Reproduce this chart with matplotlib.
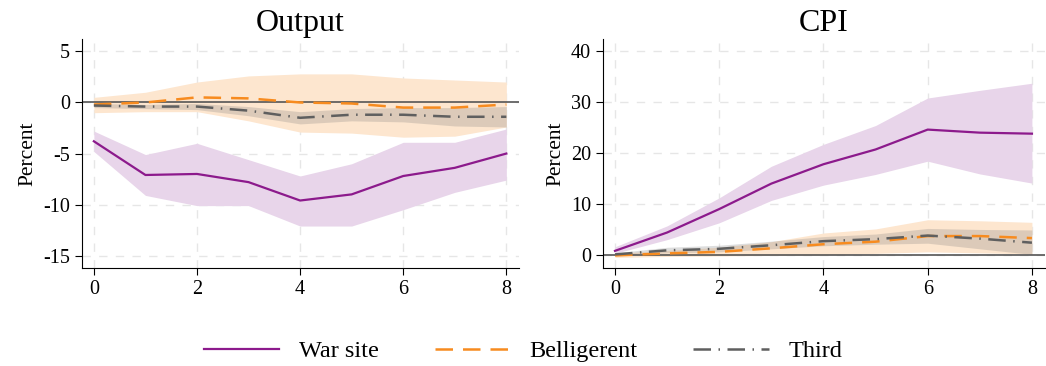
import matplotlib.pyplot as plt
import numpy as np

plt.rcParams['font.family'] = ['Liberation Serif', 'DejaVu Serif']
plt.rcParams['axes.unicode_minus'] = False

h = np.arange(9)

# Output
out_war = [-3.8, -7.1, -7.0, -7.8, -9.6, -9.0, -7.2, -6.4, -5.0]
out_war_hi = [-2.8, -5.1, -4.0, -5.6, -7.2, -6.0, -3.9, -3.9, -2.6]
out_war_lo = [-4.8, -9.1, -10.1, -10.1, -12.1, -12.1, -10.5, -8.8, -7.6]
out_bel = [-0.2, 0.0, 0.5, 0.4, 0.0, -0.1, -0.5, -0.5, -0.2]
out_bel_hi = [0.5, 1.0, 2.0, 2.6, 2.8, 2.8, 2.4, 2.2, 2.0]
out_bel_lo = [-1.0, -0.9, -0.9, -1.8, -2.9, -3.0, -3.4, -3.3, -2.4]
out_thi = [-0.3, -0.4, -0.4, -0.8, -1.5, -1.2, -1.2, -1.4, -1.4]
out_thi_hi = [-0.1, -0.2, -0.1, -0.4, -0.9, -0.6, -0.5, -0.5, -0.4]
out_thi_lo = [-0.5, -0.6, -0.7, -1.3, -2.1, -1.8, -1.9, -2.3, -2.4]

# CPI
cpi_war = [0.8, 4.4, 9.0, 14.0, 17.8, 20.7, 24.6, 24.0, 23.8]
cpi_war_hi = [1.6, 5.7, 11.2, 17.4, 21.7, 25.4, 30.8, 32.3, 33.7]
cpi_war_lo = [0.3, 3.0, 6.3, 10.7, 13.7, 15.8, 18.4, 15.9, 14.1]
cpi_bel = [-0.1, 0.3, 0.6, 1.3, 2.1, 2.6, 3.7, 3.7, 3.3]
cpi_bel_hi = [0.3, 0.9, 1.5, 2.6, 4.3, 5.1, 6.9, 6.7, 6.4]
cpi_bel_lo = [-0.5, -0.3, -0.2, -0.1, 0.0, 0.3, 0.6, 0.4, 0.2]
cpi_thi = [0.1, 0.9, 1.2, 1.9, 2.7, 3.1, 3.8, 3.2, 2.4]
cpi_thi_hi = [0.4, 1.5, 1.9, 2.7, 3.6, 4.1, 5.2, 5.0, 4.9]
cpi_thi_lo = [-0.1, 0.4, 0.6, 1.2, 1.8, 2.1, 2.3, 1.2, 0.1]

purple = '#8c1a8c'
orange = '#f78b1f'
grey = '#5f5f5f'

fig = plt.figure(figsize=(10.46, 3.66), dpi=100)
ax1 = fig.add_axes([0.0784, 0.268, 0.418, 0.625])
ax2 = fig.add_axes([0.5765, 0.268, 0.4225, 0.625])


def panel(ax, title, war, war_lo, war_hi, bel, bel_lo, bel_hi, thi, thi_lo, thi_hi,
          yticks, ylim):
    ax.fill_between(h, war_lo, war_hi, color='#e8d5ea', lw=0, zorder=1)
    ax.fill_between(h, bel_lo, bel_hi, color='#fde6cf', lw=0, zorder=1)
    ax.fill_between(h, thi_lo, thi_hi, color='#7a7a7a', alpha=0.25, lw=0, zorder=1)
    ax.axhline(0, color='#555555', lw=1.2, zorder=2)
    l1, = ax.plot(h, war, color=purple, lw=1.6, zorder=3)
    l2, = ax.plot(h, bel, color=orange, lw=1.8, dashes=(7, 4), zorder=3)
    l3, = ax.plot(h, thi, color=grey, lw=1.8, dashes=(7, 3, 0.6, 3), zorder=3)
    ax.set_xlim(-0.23, 8.25)
    ax.set_ylim(*ylim)
    ax.set_xticks([0, 2, 4, 6, 8])
    ax.set_yticks(yticks)
    ax.grid(True, color='#e6e6e6', lw=1.0, dashes=(6, 6), zorder=0)
    ax.set_axisbelow(True)
    for s in ['top', 'right']:
        ax.spines[s].set_visible(False)
    ax.tick_params(labelsize=14.5, length=5, direction='out')
    ax.set_ylabel('Percent', fontsize=15.5)
    ax.set_title(title, fontsize=23, pad=6)
    return l1, l2, l3


lines = panel(ax1, 'Output', out_war, out_war_lo, out_war_hi, out_bel, out_bel_lo, out_bel_hi,
              out_thi, out_thi_lo, out_thi_hi, [5, 0, -5, -10, -15], (-16.2, 6.2))
panel(ax2, 'CPI', cpi_war, cpi_war_lo, cpi_war_hi, cpi_bel, cpi_bel_lo, cpi_bel_hi,
      cpi_thi, cpi_thi_lo, cpi_thi_hi, [0, 10, 20, 30, 40], (-2.55, 42.35))

fig.legend(lines, ['War site', 'Belligerent', 'Third'], loc='center', ncol=3,
           bbox_to_anchor=(0.5, 0.04), frameon=False, fontsize=17.5,
           handlelength=3.1, columnspacing=2.3, handletextpad=0.8)

fig.savefig('out.png', dpi=100)
